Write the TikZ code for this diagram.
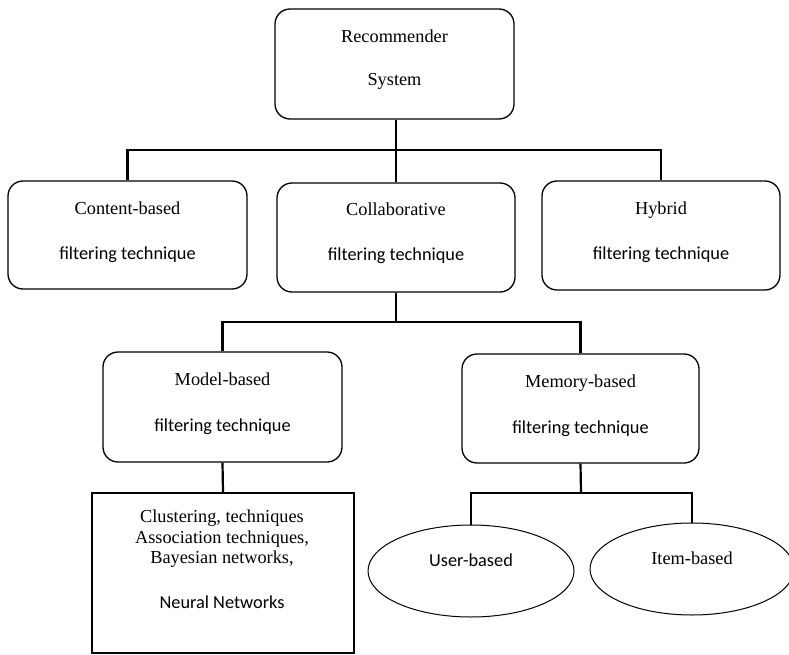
\documentclass[tikz,border=0pt]{standalone}
\usepackage{fontspec}
\setmainfont{Liberation Serif}
\newfontfamily\calfont{Carlito}
\usetikzlibrary{shapes.geometric}
\begin{document}
\begin{tikzpicture}[x=1pt,y=-1pt,
  rbox/.style={draw,line width=1.3pt,rounded corners=15pt,inner sep=0pt},
  sbox/.style={draw,line width=1.3pt,inner sep=0pt},
  ebox/.style={draw,line width=1pt,ellipse,inner sep=0pt},
  conn/.style={line width=2.2pt},
  lbl/.style={anchor=base,inner sep=0pt,font=\fontsize{18.3}{21}\selectfont},
  clbl/.style={anchor=base,inner sep=0pt,font=\fontsize{18.3}{21}\selectfont\calfont}]
\useasboundingbox (0,0) rectangle (789,655);
% boxes
\node[rbox,minimum width=239pt,minimum height=110pt] (rec) at (394.5,64) {};
\node[rbox,minimum width=239pt,minimum height=108pt] (cont) at (127.5,235) {};
\node[rbox,minimum width=238pt,minimum height=109pt] (col) at (396,237.5) {};
\node[rbox,minimum width=238pt,minimum height=109pt] (hyb) at (661,235.5) {};
\node[rbox,minimum width=239pt,minimum height=110pt] (model) at (222.5,407) {};
\node[rbox,minimum width=237pt,minimum height=109pt] (mem) at (580.5,408.5) {};
\node[sbox,minimum width=262pt,minimum height=160pt] (clus) at (223,573) {};
\node[ebox,minimum width=206pt,minimum height=92pt] (user) at (471,571) {};
\node[ebox,minimum width=204pt,minimum height=92pt] (item) at (692,569) {};
% texts
\node[lbl] (t1) at (394.5,43) {Recommender};
\node[lbl] (t2) at (394.5,86) {System};
\node[lbl] (t3) at (127.5,214) {Content-based};
\node[clbl] (t4) at (127.5,259) {filtering technique};
\node[lbl] (t5) at (396,215) {Collaborative};
\node[clbl] (t6) at (396,260) {filtering technique};
\node[lbl] (t7) at (661,214) {Hybrid};
\node[clbl] (t8) at (661,259) {filtering technique};
\node[lbl] (t9) at (222.5,385) {Model-based};
\node[clbl] (t10) at (222.5,431) {filtering technique};
\node[lbl] (t11) at (580.5,387) {Memory-based};
\node[clbl] (t12) at (580.5,433) {filtering technique};
\node[lbl] (t13) at (222,522) {Clustering, techniques};
\node[lbl] (t14) at (222,543) {Association techniques,};
\node[lbl] (t15) at (222,563) {Bayesian networks,};
\node[clbl] (t16) at (222,608) {Neural Networks};
\node[clbl] (t17) at (471,566) {User-based};
\node[lbl] (t18) at (692,564) {Item-based};
% connectors
\coordinate (b1) at (396,150);
\coordinate (b2) at (396,322);
\coordinate (b3) at (581,493);
\draw[conn] (col.north) -- (col.north |- rec.south);
\draw[conn] (cont.north) |- (b1) -| (hyb.north);
\draw[conn] (col.south) -- (b2);
\draw[conn] (model.north) |- (b2) -| (mem.north);
\draw[conn] (model.south) -- (clus.north);
\draw[conn] (mem.south) -- (b3);
\draw[conn] (user.north) |- (b3) -| (item.north);
\end{tikzpicture}
\end{document}
